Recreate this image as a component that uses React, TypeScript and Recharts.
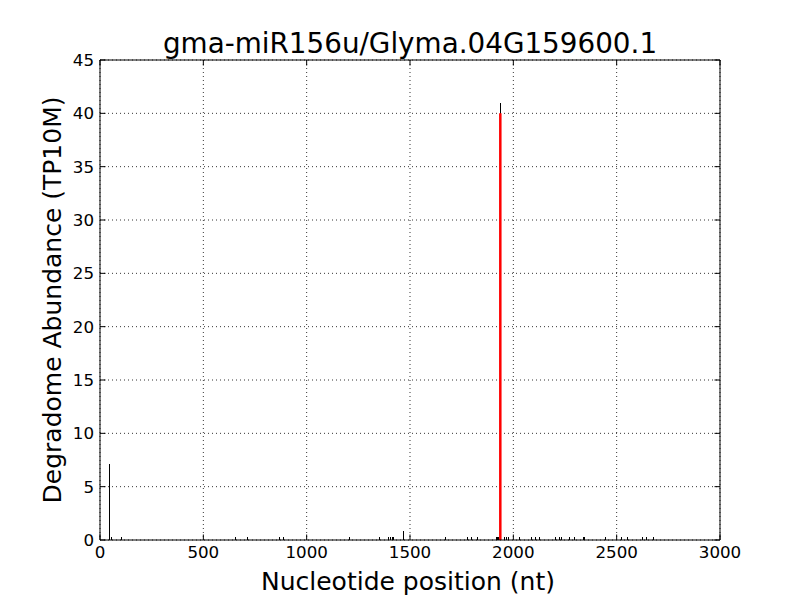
import React from 'react';
import { ComposedChart, Bar, XAxis, YAxis, CartesianGrid, ReferenceLine, Rectangle } from 'recharts';

const TITLE = 'gma-miR156u/Glyma.04G159600.1';
const X_LABEL = 'Nucleotide position (nt)';
const Y_LABEL = 'Degradome Abundance (TP10M)';

const positions = [48, 56, 105, 658, 712, 871, 887, 1206, 1352, 1395, 1405, 1413, 1422, 1468, 1674, 1779, 1799, 1828, 1918, 1924, 1930, 1937, 1955, 1965, 1976, 2029, 2089, 2105, 2129, 2202, 2222, 2234, 2271, 2294, 2340, 2345, 2447, 2524, 2553, 2626, 2645, 2677];
const abundance = [7.1, 0.3, 0.3, 0.3, 0.3, 0.3, 0.3, 0.3, 0.3, 0.3, 0.3, 0.3, 0.3, 0.85, 0.3, 0.3, 0.3, 0.3, 0.3, 0.3, 0.3, 41, 0.3, 0.3, 0.3, 0.3, 0.3, 0.3, 0.3, 0.3, 0.3, 0.3, 0.3, 0.3, 0.3, 0.3, 0.3, 0.3, 0.3, 0.3, 0.3, 0.3];

const cleavagePos = 1937;
const cleavageValue = 40;

const xTicks = [0, 500, 1000, 1500, 2000, 2500, 3000];
const yTicks = [0, 5, 10, 15, 20, 25, 30, 35, 40, 45];

const data = positions.map((p, i) => ({ pos: p, val: abundance[i] }));

const FONT = 'DejaVu Sans';
const TICK_LEN = 5.5;

const BottomTick = (props: any) => {
  const { x, y, payload } = props;
  return (
    <g>
      <line x1={x} y1={y} x2={x} y2={y - TICK_LEN} stroke="#000" strokeWidth={1} />
      <text x={x} y={y + 18} textAnchor="middle" fontSize={16.7} fontFamily={FONT} fill="#000">
        {payload.value}
      </text>
    </g>
  );
};

const TopTick = (props: any) => {
  const { x, y } = props;
  return <line x1={x} y1={y} x2={x} y2={y + TICK_LEN} stroke="#000" strokeWidth={1} />;
};

const LeftTick = (props: any) => {
  const { x, y, payload } = props;
  return (
    <g>
      <line x1={x} y1={y} x2={x + TICK_LEN} y2={y} stroke="#000" strokeWidth={1} />
      <text x={x - 6} y={y + 6} textAnchor="end" fontSize={16.7} fontFamily={FONT} fill="#000">
        {payload.value}
      </text>
    </g>
  );
};

const RightTick = (props: any) => {
  const { x, y } = props;
  return <line x1={x} y1={y} x2={x - TICK_LEN} y2={y} stroke="#000" strokeWidth={1} />;
};

const SpikeShape = (props: any) => <Rectangle {...props} shapeRendering="crispEdges" />;

export default function App() {
  return (
    <div style={{ position: 'absolute', left: 0, top: 0, width: 800, height: 600, background: '#fff' }}>
      <ComposedChart
        width={800}
        height={600}
        data={data}
        margin={{ top: 30, right: 50, bottom: 0, left: 0 }}
      >
        <CartesianGrid stroke="#000" strokeWidth={0.8} strokeDasharray="1 3" />
        <XAxis
          xAxisId={0}
          dataKey="pos"
          type="number"
          domain={[0, 3000]}
          ticks={xTicks}
          interval={0}
          height={60}
          tickSize={0}
          tickMargin={0}
          tickLine={false}
          axisLine={{ stroke: '#000', strokeWidth: 1 }}
          tick={<BottomTick />}
          allowDataOverflow
          label={{
            content: (p: any) => {
              const vb = p.viewBox || { x: 100, y: 540, width: 620, height: 60 };
              return (
                <text x={vb.x + vb.width / 2 - 2} y={vb.y + 50} textAnchor="middle" fontSize={25} fontFamily={FONT} fill="#000">
                  {X_LABEL}
                </text>
              );
            },
          }}
        />
        <XAxis
          xAxisId="top"
          orientation="top"
          dataKey="pos"
          type="number"
          domain={[0, 3000]}
          ticks={xTicks}
          interval={0}
          height={30}
          tickSize={0}
          tickMargin={0}
          tickLine={false}
          axisLine={{ stroke: '#000', strokeWidth: 1 }}
          tick={<TopTick />}
          allowDataOverflow
          label={{
            content: (p: any) => {
              const vb = p.viewBox || { x: 100, y: 30, width: 620, height: 30 };
              return (
                <text x={vb.x + vb.width / 2} y={vb.y + 23} textAnchor="middle" fontSize={27.8} fontFamily={FONT} fill="#000">
                  {TITLE}
                </text>
              );
            },
          }}
        />
        <YAxis
          yAxisId={0}
          type="number"
          domain={[0, 45]}
          ticks={yTicks}
          interval={0}
          width={100}
          tickSize={0}
          tickMargin={0}
          tickLine={false}
          axisLine={{ stroke: '#000', strokeWidth: 1 }}
          tick={<LeftTick />}
          allowDataOverflow
          label={{
            content: (p: any) => {
              const vb = p.viewBox || { x: 0, y: 60, width: 100, height: 480 };
              const cx = vb.x + 61;
              const cy = vb.y + vb.height / 2;
              return (
                <text x={cx} y={cy} transform={`rotate(-90 ${cx} ${cy})`} textAnchor="middle" fontSize={25} fontFamily={FONT} fill="#000">
                  {Y_LABEL}
                </text>
              );
            },
          }}
        />
        <YAxis
          yAxisId="right"
          orientation="right"
          type="number"
          domain={[0, 45]}
          ticks={yTicks}
          interval={0}
          width={30}
          tickSize={0}
          tickMargin={0}
          tickLine={false}
          axisLine={{ stroke: '#000', strokeWidth: 1 }}
          tick={<RightTick />}
          allowDataOverflow
        />
        <Bar xAxisId={0} yAxisId={0} dataKey="val" fill="#000" barSize={1} shape={SpikeShape} isAnimationActive={false} />
        <ReferenceLine
          xAxisId={0}
          yAxisId={0}
          segment={[{ x: cleavagePos, y: 0 }, { x: cleavagePos, y: cleavageValue }]}
          stroke="#ff0000"
          strokeWidth={2.5}
        />
      </ComposedChart>
    </div>
  );
}
